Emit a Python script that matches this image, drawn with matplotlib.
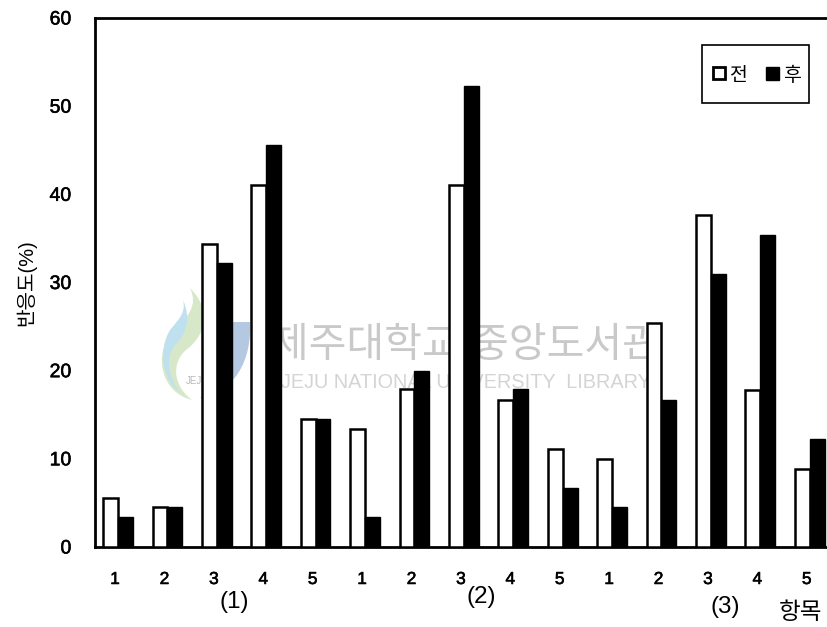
import matplotlib
matplotlib.use("Agg")
import matplotlib.pyplot as plt
import matplotlib.patheffects as pe
from matplotlib.patches import PathPatch, Rectangle
from matplotlib.path import Path
import numpy as np

plt.rcParams['font.family'] = ['Liberation Sans', 'Noto Sans CJK KR', 'DejaVu Sans']

items = ['1', '2', '3', '4', '5', '1', '2', '3', '4', '5', '1', '2', '3', '4', '5']
before = [5.6, 4.5, 34.4, 41.1, 14.5, 13.4, 17.9, 41.1, 16.7, 11.1, 10.0, 25.4, 37.7, 17.8, 8.9]
after = [3.4, 4.5, 32.2, 45.6, 14.5, 3.4, 20.0, 52.3, 17.9, 6.7, 4.5, 16.7, 31.0, 35.4, 12.3]
yticks = [0, 10, 20, 30, 40, 50, 60]

W, H = 828, 627


def fx(px):
    return px / W


def fy(py):
    return 1 - py / H


fig = plt.figure(figsize=(8.28, 6.27), dpi=100)
ax = fig.add_axes([fx(95), fy(547), fx(828 - 95), fy(18) - fy(547)])
ax.set_zorder(2)
ax.patch.set_alpha(0)

x = np.arange(len(items))
w = 0.3
ax.bar(x - w / 2, before, w, color='white', edgecolor='black', linewidth=1.8, zorder=3)
ax.bar(x + w / 2, after, w, color='black', edgecolor='black', linewidth=1, zorder=4)

ax.set_xlim(-0.466, 14.37)
ax.set_ylim(0, 60)
ax.set_yticks(yticks)
ax.set_xticks(x - 0.06)
ax.set_xticklabels(items)
ax.tick_params(axis='y', length=0, pad=17, labelsize=14)
ax.tick_params(axis='x', length=0, pad=18, labelsize=12.5)
for lab in ax.get_xticklabels() + ax.get_yticklabels():
    lab.set_path_effects([pe.withStroke(linewidth=0.4, foreground='black')])
ax.spines['right'].set_visible(False)
for s in ['top', 'left', 'bottom']:
    ax.spines[s].set_linewidth(2)

fig.text(fx(26), fy(283), '반응도(%)', rotation=90, ha='center', va='center', fontsize=14.5)

# group labels and axis name
fig.text(fx(234), fy(602), '(1)', ha='center', va='center', fontsize=17.5)
fig.text(fx(481), fy(597), '(2)', ha='center', va='center', fontsize=17.5)
fig.text(fx(725), fy(607), '(3)', ha='center', va='center', fontsize=17.5)
fig.text(fx(801), fy(613), '항목', ha='center', va='center', fontsize=17)

# legend box
fig.add_artist(Rectangle((fx(702), fy(103)), fx(107), fy(45) - fy(103), transform=fig.transFigure,
                         fc='white', ec='black', lw=1.2, zorder=5))
fig.add_artist(Rectangle((fx(713), fy(79)), fx(12), fy(67) - fy(79), transform=fig.transFigure,
                         fc='white', ec='black', lw=2, zorder=6))
fig.add_artist(Rectangle((fx(766), fy(80)), fx(13), fy(67) - fy(80), transform=fig.transFigure,
                         fc='black', ec='black', lw=1, zorder=6))
fig.text(fx(739), fy(76), '전', ha='center', va='center', fontsize=14, zorder=6)
fig.text(fx(793), fy(76), '후', ha='center', va='center', fontsize=14, zorder=6)

# library watermark behind the bars
fig.text(fx(465), fy(346), '제주대학교 중앙도서관', ha='center', va='center', fontsize=29.5,
         color='#c9c9c9', zorder=1)
fig.text(fx(466), fy(383), 'JEJU NATIONAL UNIVERSITY  LIBRARY', ha='center', va='center',
         fontsize=14.3, color='#d4d4d4', zorder=1)
fig.text(fx(197), fy(381), 'JEJU', ha='center', va='center', fontsize=7, color='#b8b8b8', zorder=1)


def blob(points, color):
    verts = [(fx(a), fy(b)) for a, b in points]
    codes = [Path.MOVETO] + [Path.CURVE4] * (len(verts) - 1)
    fig.add_artist(PathPatch(Path(verts, codes), transform=fig.transFigure, fc=color, ec='none', zorder=1))


blob([(190, 288), (212, 310), (206, 335), (186, 350), (172, 362), (172, 385), (192, 400),
      (160, 392), (155, 355), (170, 335), (190, 315), (198, 305), (190, 288)], '#d6e8c8')
blob([(183, 300), (192, 320), (185, 335), (175, 345), (165, 358), (168, 378), (180, 392),
      (162, 380), (158, 350), (170, 330), (180, 318), (186, 312), (183, 300)], '#bfe0ef')
blob([(222, 322), (232, 322), (242, 322), (250, 322), (252, 360), (235, 392), (200, 398),
      (215, 385), (224, 365), (222, 322)], '#b4c8e2')

fig.savefig('out.png', dpi=100)
